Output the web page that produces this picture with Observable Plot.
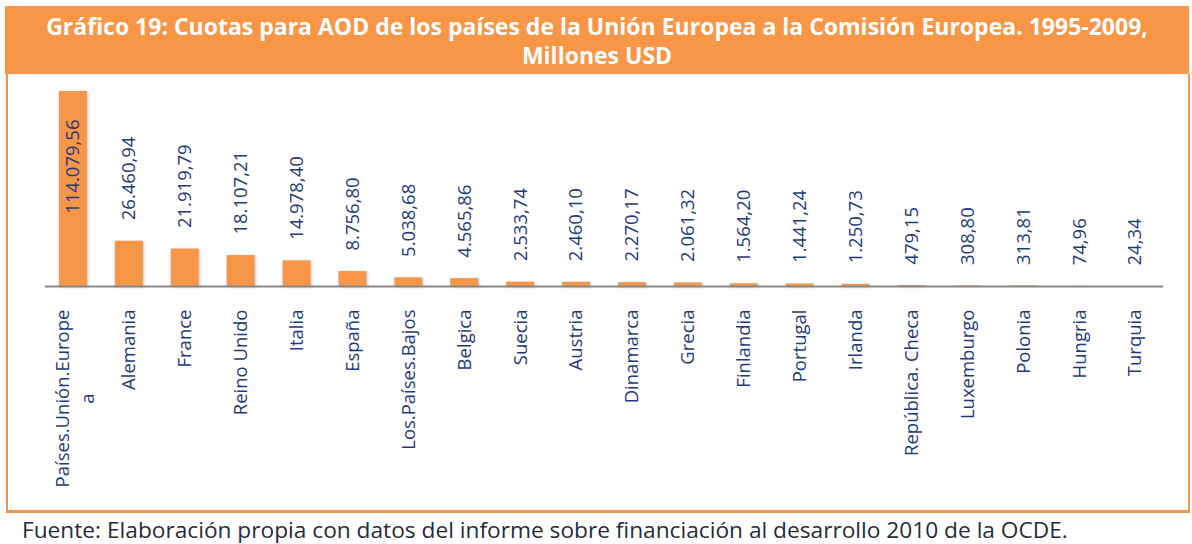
<!DOCTYPE html>
<html><head><meta charset="utf-8">
<script src="https://cdn.jsdelivr.net/npm/d3@7"></script>
<script src="https://cdn.jsdelivr.net/npm/@observablehq/plot@0.6"></script>
<style>
html,body{margin:0;padding:0;background:#fff;width:1192px;height:544px;overflow:hidden;font-family:"Open Sans",sans-serif;}
#title{position:absolute;left:5px;top:6px;width:1184px;height:68px;background:#F79646;color:#fff;font-weight:700;font-size:23px;line-height:29px;text-align:center;box-sizing:border-box;padding-top:6px;white-space:nowrap;overflow:hidden;}
#frame{position:absolute;left:6px;top:74px;width:1184px;height:439px;border-left:2px solid #F79646;border-right:2px solid #F79646;border-bottom:3px solid #F79646;box-sizing:border-box;}
#chart{position:absolute;left:0;top:74px;}
#note{position:absolute;left:22px;top:514px;font-size:22.7px;color:#1F2D3D;white-space:nowrap;}
#chart g[aria-label="bar"] rect{filter:drop-shadow(1.5px 1px 1.5px rgba(0,0,0,0.25));}
</style>
</head><body>
<div id="title">Gráfico 19: Cuotas para AOD de los países de la Unión Europea a la Comisión Europea. 1995-2009,<br>Millones USD</div>
<div id="frame"></div>
<div id="chart"></div>
<div id="note">Fuente: Elaboración propia con datos del informe sobre financiación al desarrollo 2010 de la OCDE.</div>
<script>
const categories = ["Países.Unión.Europea", "Alemania", "France", "Reino Unido", "Italia", "España", "Los.Países.Bajos", "Belgica", "Suecia", "Austria", "Dinamarca", "Grecia", "Finlandia", "Portugal", "Irlanda", "República. Checa", "Luxemburgo", "Polonia", "Hungria", "Turquia"];
const values = [114079.56, 26460.94, 21919.79, 18107.21, 14978.40, 8756.80, 5038.68, 4565.86, 2533.74, 2460.10, 2270.17, 2061.32, 1564.20, 1441.24, 1250.73, 479.15, 308.80, 313.81, 74.96, 24.34];
const tickLabels = ["Países.Unión.Europe\na", "Alemania", "France", "Reino Unido", "Italia", "España", "Los.Países.Bajos", "Belgica", "Suecia", "Austria", "Dinamarca", "Grecia", "Finlandia", "Portugal", "Irlanda", "República. Checa", "Luxemburgo", "Polonia", "Hungria", "Turquia"];

const data = categories.map((c, i) => ({category: c, value: values[i], label: tickLabels[i]}));
const locale = d3.formatLocale({decimal: ",", thousands: ".", grouping: [3], currency: ["", ""]});
const fmt = locale.format(",.2f");
const navy = "#1E3C7C";
const maxV = d3.max(values);

const chart = Plot.plot({
  width: 1192,
  height: 438,
  marginTop: 17,
  marginBottom: 226,
  marginLeft: 45,
  marginRight: 29,
  style: {fontFamily: "'Open Sans', sans-serif", background: "transparent"},
  x: {domain: categories, paddingInner: 0.5, paddingOuter: 0.25, round: false, axis: null},
  y: {domain: [0, maxV], axis: null},
  marks: [
    Plot.barY(data, {x: "category", y: "value", fill: "#F79646"}),
    Plot.ruleY([0], {stroke: "#878787", strokeWidth: 2}),
    Plot.text(data.filter(d => d.value !== maxV), {x: "category", y: "value", text: d => fmt(d.value), rotate: -90, textAnchor: "start", dy: -21, fill: navy, fontSize: 18.5}),
    Plot.text(data.filter(d => d.value === maxV), {x: "category", y: "value", text: d => fmt(d.value), rotate: -90, textAnchor: "end", dy: 28, fill: navy, fontSize: 18.5}),
    Plot.text(data.filter(d => !d.label.includes("\n")), {x: "category", y: () => 0, text: "label", rotate: -90, textAnchor: "end", dy: 23, fill: navy, fontSize: 18.5}),
    Plot.text(data.filter(d => d.label.includes("\n")), {x: "category", y: () => 0, text: "label", rotate: -90, textAnchor: "middle", dy: 112, fill: navy, fontSize: 18.5, lineHeight: 1.35})
  ]
});
document.getElementById("chart").appendChild(chart);
</script>
</body></html>
